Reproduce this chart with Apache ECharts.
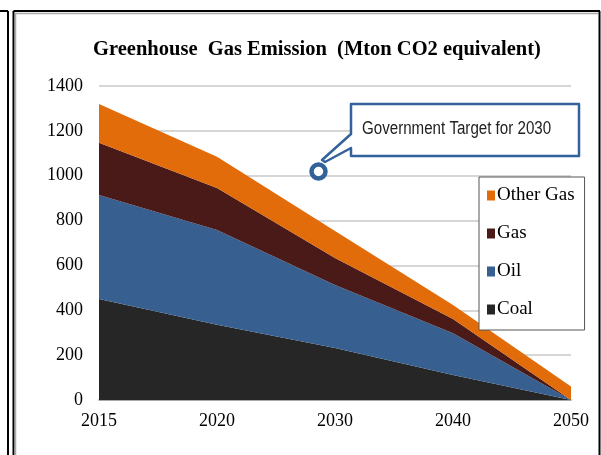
<!DOCTYPE html>
<html><head><meta charset="utf-8">
<script src="https://cdn.jsdelivr.net/npm/echarts@6/dist/echarts.min.js"></script>
<style>html,body{margin:0;padding:0;background:#fff}#c{width:601px;height:455px}</style>
</head><body><div id="c"></div>
<script>
const years = ['2015', '2020', '2030', '2040', '2050'];
const coal = [450, 335, 232, 112, 0];
const oil = [464, 423, 281, 186, 0];
const gas = [233, 187, 120, 63, 0];
const otherGas = [173, 140, 120, 63, 60];
const yTicks = [0, 200, 400, 600, 800, 1000, 1200, 1400];
const titleText = 'Greenhouse  Gas Emission  (Mton CO2 equivalent)';
const calloutText = 'Government Target for 2030';

const serif = '"Liberation Serif", "DejaVu Serif", serif';
const colors = {Coal: '#262626', Oil: '#375f8f', Gas: '#4a1a19', 'Other Gas': '#e36c0a'};

const chart = echarts.init(document.getElementById('c'), null, {renderer: 'canvas'});
function mk(name, data) {
  return {
    name, type: 'line', stack: 'total', data, symbol: 'none', smooth: false,
    lineStyle: {width: 0}, areaStyle: {color: colors[name], opacity: 1},
    itemStyle: {color: colors[name]}, z: 2
  };
}
const blue = '#33619a';
chart.setOption({
  animation: false,
  backgroundColor: '#fff',
  grid: {left: 99, right: 30, top: 86, bottom: 55, containLabel: false},
  xAxis: {
    type: 'category', data: years, boundaryGap: false,
    axisLine: {lineStyle: {color: '#9a9a9a', width: 1.5}},
    axisTick: {show: false},
    axisLabel: {color: '#000', fontFamily: serif, fontSize: 18, margin: 12}
  },
  yAxis: {
    type: 'value', min: yTicks[0], max: yTicks[yTicks.length - 1], interval: 200,
    axisLine: {show: false}, axisTick: {show: false},
    axisLabel: {color: '#000', fontFamily: serif, fontSize: 18, margin: 16, formatter: v => String(v)},
    splitLine: {lineStyle: {color: '#c8c8c8', width: 1.5}}
  },
  legend: {
    orient: 'vertical', left: 479, top: 177,
    data: ['Other Gas', 'Gas', 'Oil', 'Coal'],
    icon: 'rect', itemWidth: 8, itemHeight: 10, itemGap: 19,
    padding: [9, 10, 11, 8],
    backgroundColor: '#fff', borderColor: '#555', borderWidth: 1,
    textStyle: {color: '#000', fontFamily: serif, fontSize: 19, padding: [0, 0, 0, -3]},
    z: 10
  },
  series: [mk('Coal', coal), mk('Oil', oil), mk('Gas', gas), mk('Other Gas', otherGas)],
  graphic: [
    {type: 'line', shape: {x1: 0, y1: 11, x2: 8, y2: 11}, style: {stroke: '#000', lineWidth: 2}, z: 100},
    {type: 'line', shape: {x1: 8, y1: 11, x2: 8, y2: 455}, style: {stroke: '#000', lineWidth: 2}, z: 100},
    {type: 'line', shape: {x1: 13.5, y1: 11, x2: 600, y2: 11}, style: {stroke: '#000', lineWidth: 2}, z: 100},
    {type: 'line', shape: {x1: 13.5, y1: 11, x2: 13.5, y2: 455}, style: {stroke: '#000', lineWidth: 2}, z: 100},
    {type: 'line', shape: {x1: 599.5, y1: 11, x2: 599.5, y2: 455}, style: {stroke: '#000', lineWidth: 2}, z: 100},
    {type: 'line', shape: {x1: 15, y1: 13.5, x2: 598, y2: 13.5}, style: {stroke: '#aaa', lineWidth: 1.5}, z: 100},
    {type: 'line', shape: {x1: 15.5, y1: 13, x2: 15.5, y2: 455}, style: {stroke: '#aaa', lineWidth: 1.5}, z: 100},
    {type: 'text', x: 317, y: 50, z: 100,
     style: {text: titleText, fill: '#000', font: 'bold 20.5px ' + serif, textAlign: 'center', textVerticalAlign: 'middle', align: 'center', verticalAlign: 'middle'}},
    {type: 'polygon', z: 50,
     shape: {points: [[351, 104], [579, 104], [579, 156], [351, 156], [351, 148], [325, 162], [322, 160], [351, 134]]},
     style: {fill: '#fff', stroke: blue, lineWidth: 2.5, lineJoin: 'round'}},
    {type: 'circle', z: 51, shape: {cx: 318.5, cy: 171.5, r: 7},
     style: {fill: '#fff', stroke: blue, lineWidth: 4.5}},
    {type: 'text', x: 362, y: 129, scaleX: 0.84, z: 52,
     style: {text: calloutText, fill: '#222', font: '18px "Liberation Sans", "DejaVu Sans", sans-serif', textAlign: 'left', textVerticalAlign: 'middle', align: 'left', verticalAlign: 'middle'}}
  ]
});
</script></body></html>
